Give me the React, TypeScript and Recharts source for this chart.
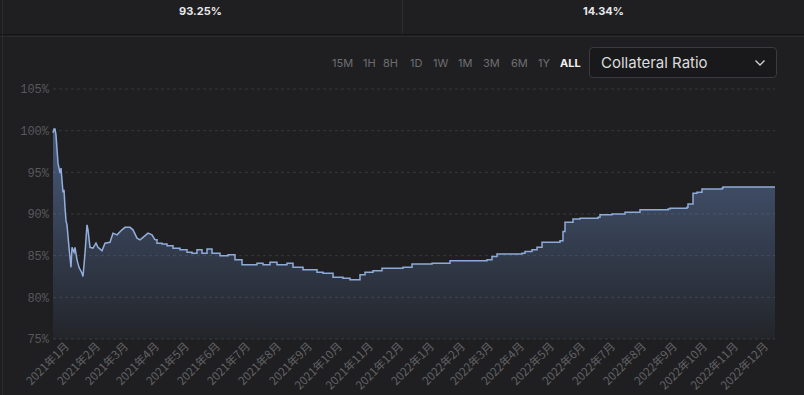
import React from 'react';
import { AreaChart, Area, XAxis, YAxis, CartesianGrid } from 'recharts';

const dates = [
  '2020-12-20', '2020-12-21', '2020-12-22', '2020-12-23', '2020-12-25', '2020-12-27', '2020-12-28',
  '2020-12-30', '2020-12-31', '2021-01-01', '2021-01-02', '2021-01-03', '2021-01-05', '2021-01-07',
  '2021-01-08', '2021-01-10', '2021-01-11', '2021-01-13', '2021-01-15', '2021-01-18', '2021-01-19',
  '2021-01-21', '2021-01-23', '2021-01-24', '2021-01-26', '2021-01-29', '2021-02-01', '2021-02-03',
  '2021-02-07', '2021-02-10', '2021-02-15', '2021-02-18', '2021-02-22', '2021-02-27', '2021-03-02',
  '2021-03-07', '2021-03-10', '2021-03-14', '2021-03-17', '2021-03-20', '2021-03-25', '2021-03-29',
  '2021-04-01', '2021-04-03', '2021-04-08', '2021-04-13', '2021-04-19', '2021-04-26', '2021-05-03',
  '2021-05-08', '2021-05-13', '2021-05-18', '2021-05-23', '2021-05-28', '2021-06-05', '2021-06-13',
  '2021-06-20', '2021-06-27', '2021-07-05', '2021-07-12', '2021-07-18', '2021-07-25', '2021-08-01',
  '2021-08-11', '2021-08-17', '2021-08-27', '2021-09-10', '2021-09-16', '2021-09-26', '2021-10-06',
  '2021-10-13', '2021-10-18', '2021-10-23', '2021-10-28', '2021-11-05', '2021-11-14', '2021-12-05',
  '2021-12-14', '2022-01-03', '2022-01-21', '2022-02-27', '2022-03-04', '2022-03-09', '2022-04-03',
  '2022-04-06', '2022-04-13', '2022-04-18', '2022-04-23', '2022-05-11', '2022-05-14', '2022-05-16',
  '2022-05-23', '2022-05-24', '2022-05-31', '2022-06-18', '2022-06-20', '2022-07-02', '2022-07-15',
  '2022-07-30', '2022-08-27', '2022-08-29', '2022-09-15', '2022-09-16', '2022-09-21', '2022-09-25',
  '2022-09-30', '2022-10-20', '2022-10-21', '2022-12-12',
];

const ratios = [
  99.75, 100.2, 100.2, 99.5, 96.1, 94.9, 95.5,
  92.6, 92.9, 90.8, 89.2, 88.7, 86.0, 83.6,
  86.0, 85.4, 86.0, 84.5, 83.6, 82.9, 82.5,
  85.3, 88.7, 88.1, 86.0, 85.9, 86.5, 86.0,
  85.6, 86.5, 86.6, 87.7, 87.5, 88.1, 88.4,
  88.4, 88.1, 87.1, 86.9, 87.2, 87.7, 87.5,
  86.9, 86.5, 86.4, 86.2, 85.9, 85.7, 85.4,
  85.3, 85.7, 85.3, 85.8, 85.3, 85.0, 85.1,
  84.5, 83.9, 83.9, 84.1, 83.9, 84.2, 83.9,
  84.1, 83.6, 83.3, 83.0, 82.9, 82.4, 82.3,
  82.1, 82.1, 82.7, 83.0, 83.2, 83.5, 83.6,
  84.0, 84.1, 84.4, 84.5, 84.9, 85.2, 85.3,
  85.5, 85.7, 86.0, 86.6, 86.8, 87.9, 89.0,
  89.0, 89.4, 89.5, 89.6, 89.9, 90.0, 90.2,
  90.5, 90.6, 90.7, 90.8, 91.2, 92.5, 92.6,
  93.0, 93.1, 93.25, 93.25,
];

// the volatile launch period is drawn as a plain line, the later period as steps
const stepsFrom = '2021-04-01';

const monthTicks = [
  '2021-01-01', '2021-02-01', '2021-03-01', '2021-04-01', '2021-05-01', '2021-06-01',
  '2021-07-01', '2021-08-01', '2021-09-01', '2021-10-01', '2021-11-01', '2021-12-01',
  '2022-01-01', '2022-02-01', '2022-03-01', '2022-04-01', '2022-05-01', '2022-06-01',
  '2022-07-01', '2022-08-01', '2022-09-01', '2022-10-01', '2022-11-01', '2022-12-01',
];
const monthLabels = [
  '2021年1月', '2021年2月', '2021年3月', '2021年4月', '2021年5月', '2021年6月',
  '2021年7月', '2021年8月', '2021年9月', '2021年10月', '2021年11月', '2021年12月',
  '2022年1月', '2022年2月', '2022年3月', '2022年4月', '2022年5月', '2022年6月',
  '2022年7月', '2022年8月', '2022年9月', '2022年10月', '2022年11月', '2022年12月',
];
const yTicks = [75, 80, 85, 90, 95, 100, 105];
const timeframes = ['15M', '1H', '8H', '1D', '1W', '1M', '3M', '6M', '1Y', 'ALL'];
const statValues = ['93.25%', '14.34%'];
const selectedMetric = 'Collateral Ratio';

const toTs = (d: string) => Date.parse(d + 'T00:00:00Z');
const data = dates.map((d, i) => ({ t: toTs(d), v: ratios[i] }));
const splitTs = toTs(stepsFrom);
const earlyData = data.filter((p) => p.t <= splitTs);
const lateData = data.filter((p) => p.t >= splitTs);
const tickTs = monthTicks.map(toTs);
const labelFor = (ts: number) => {
  const i = tickTs.indexOf(ts);
  return i >= 0 ? monthLabels[i] : '';
};

const XTick = (props: any) => {
  const { x, y, payload } = props;
  const px = x + 5;
  const py = y + 6;
  return (
    <text
      x={px}
      y={py}
      transform={`rotate(-45 ${px} ${py})`}
      textAnchor="end"
      fill="#626265"
      fontSize={11.5}
      fontFamily="'Noto Sans CJK SC', 'Noto Sans', sans-serif"
    >
      {labelFor(payload.value)}
    </text>
  );
};

const tfLeft = [332, 363, 383, 410, 433, 458, 483, 511, 538, 560];

export default function App() {
  return (
    <div
      style={{
        position: 'fixed',
        left: 0,
        top: 0,
        width: 804,
        height: 395,
        background: '#1f1f21',
        overflow: 'hidden',
        fontFamily: 'Inter, sans-serif',
      }}
    >
      <div style={{ position: 'absolute', left: 0, top: 0 }}>
        <AreaChart
          width={804}
          height={395}
          data={data}
          margin={{ top: 89, right: 29, bottom: 0, left: 0 }}
        >
          <defs>
            <linearGradient id="crFill" gradientUnits="userSpaceOnUse" x1="0" y1="89" x2="0" y2="339">
              <stop offset="0%" stopColor="#6f93d0" stopOpacity={0.6} />
              <stop offset="100%" stopColor="#6f93d0" stopOpacity={0.05} />
            </linearGradient>
          </defs>
          <CartesianGrid vertical={false} stroke="#38383b" strokeDasharray="3 3" />
          <XAxis
            dataKey="t"
            type="number"
            scale="time"
            domain={['dataMin', 'dataMax']}
            ticks={tickTs}
            interval={0}
            height={56}
            axisLine={false}
            tickLine={false}
            tickSize={0}
            tick={<XTick />}
          />
          <YAxis
            type="number"
            domain={[75, 105]}
            ticks={yTicks}
            width={53}
            axisLine={false}
            tickLine={false}
            tickSize={0}
            tickMargin={4}
            tickFormatter={(v: number) => `${v}%`}
            tick={{ fill: '#58585b', fontSize: 12, fontFamily: "'Liberation Mono', monospace" }}
          />
          <Area
            data={earlyData}
            type="linear"
            dataKey="v"
            stroke="#94aedb"
            strokeWidth={1.5}
            fill="url(#crFill)"
            fillOpacity={1}
            isAnimationActive={false}
            dot={false}
            activeDot={false}
          />
          <Area
            data={lateData}
            type="stepAfter"
            dataKey="v"
            stroke="#8eaad8"
            strokeWidth={1.5}
            fill="url(#crFill)"
            fillOpacity={1}
            isAnimationActive={false}
            dot={false}
            activeDot={false}
          />
        </AreaChart>
      </div>

      {/* header stats */}
      <div style={{ position: 'absolute', left: 0, top: 34, width: 804, height: 1, background: '#141415' }} />
      <div style={{ position: 'absolute', left: 0, top: 36, width: 804, height: 1, background: '#2a2a2d' }} />
      <div style={{ position: 'absolute', left: 402, top: 0, width: 1, height: 34, background: '#2c2c2f' }} />
      <div style={{ position: 'absolute', left: 2, top: 0, width: 1, height: 395, background: '#2a2a2d' }} />
      {statValues.map((s, i) => (
        <div
          key={s}
          style={{
            position: 'absolute',
            left: i === 0 ? 0 : 403,
            width: 401,
            top: 3,
            textAlign: 'center',
            color: '#e8e8ea',
            fontWeight: 700,
            fontSize: 11,
            lineHeight: '16px',
          }}
        >
          {s}
        </div>
      ))}

      {/* timeframe buttons */}
      {timeframes.map((tf, i) => (
        <div
          key={tf}
          style={{
            position: 'absolute',
            left: tfLeft[i],
            top: 55,
            fontSize: 11,
            lineHeight: '16px',
            color: tf === 'ALL' ? '#f2f2f2' : '#6e6e72',
            fontWeight: tf === 'ALL' ? 700 : 400,
          }}
        >
          {tf}
        </div>
      ))}

      {/* dropdown */}
      <div
        style={{
          position: 'absolute',
          left: 589,
          top: 47,
          width: 188,
          height: 31,
          boxSizing: 'border-box',
          border: '1px solid #3b3b3f',
          borderRadius: 4,
          background: '#19191b',
        }}
      >
        <div
          style={{
            position: 'absolute',
            left: 11,
            top: 6,
            fontSize: 15,
            lineHeight: '18px',
            color: '#dcdcde',
          }}
        >
          {selectedMetric}
        </div>
        <svg width="12" height="8" viewBox="0 0 12 8" style={{ position: 'absolute', left: 164, top: 11 }}>
          <path d="M1.5 1.5 L6 6 L10.5 1.5" fill="none" stroke="#cfcfd2" strokeWidth="1.4" />
        </svg>
      </div>
    </div>
  );
}
